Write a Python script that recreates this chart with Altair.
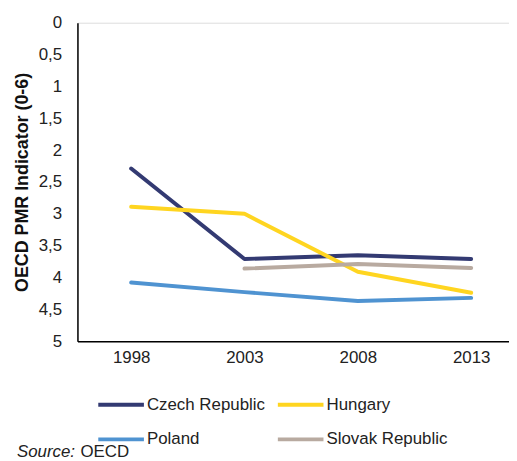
import altair as alt
import pandas as pd

years = [1998, 2003, 2008, 2013]
czech = [2.29, 3.71, 3.65, 3.71]
hungary = [2.89, 3.00, 3.91, 4.24]
poland = [4.08, 4.23, 4.37, 4.32]
slovak = [None, 3.86, 3.79, 3.85]

series = ["Czech Republic", "Hungary", "Poland", "Slovak Republic"]
colors = ["#333A72", "#FFD520", "#4F93D1", "#B8AAA0"]

rows = []
for name, vals in zip(series, [czech, hungary, poland, slovak]):
    for y, v in zip(years, vals):
        if v is not None:
            rows.append({"year": y, "value": v, "country": name})
df = pd.DataFrame(rows)

FONT = "Liberation Sans"
FS = 17

lines = alt.Chart(df).mark_line(strokeWidth=4, strokeCap="round", strokeJoin="round").encode(
    x=alt.X("year:Q",
            scale=alt.Scale(domain=[1995.63, 2014.67], nice=False, zero=False),
            axis=alt.Axis(values=years, format="d", title=None, ticks=False, grid=False,
                          domainColor="black", domainWidth=1.5, labelFontSize=FS,
                          labelColor="#222222", labelPadding=9, labelFont=FONT)),
    y=alt.Y("value:Q",
            scale=alt.Scale(domain=[0, 5], reverse=True, nice=False),
            axis=alt.Axis(values=[0, 0.5, 1, 1.5, 2, 2.5, 3, 3.5, 4, 4.5, 5],
                          labelExpr="replace(toString(datum.value), '.', ',')",
                          title="OECD PMR  Indicator (0-6)", titleFontSize=18,
                          titleFont=FONT, titleFontWeight="bold", titleColor="#111111",
                          titlePadding=7,
                          ticks=False, grid=False, domainColor="black", domainWidth=1.5,
                          labelFontSize=FS, labelColor="#222222", labelPadding=16,
                          labelFont=FONT)),
    color=alt.Color("country:N", scale=alt.Scale(domain=series, range=colors),
                    legend=alt.Legend(title=None, orient="none", legendX=19, legendY=360,
                                      direction="horizontal",
                                      columns=2, symbolType="stroke", symbolSize=2116,
                                      symbolStrokeWidth=4, labelFontSize=FS,
                                      labelFont=FONT, labelColor="#222222",
                                      labelOffset=1, columnPadding=4, rowPadding=2,
                                      padding=0)),
)

src1 = alt.Chart(pd.DataFrame({"t": ["Source:"]})).mark_text(
    align="left", baseline="middle", fontSize=FS, fontStyle="italic", font=FONT, color="#222222"
).encode(x=alt.value(-61), y=alt.value(433), text="t:N")
src2 = alt.Chart(pd.DataFrame({"t": ["OECD"]})).mark_text(
    align="left", baseline="middle", fontSize=FS, font=FONT, color="#222222"
).encode(x=alt.value(3), y=alt.value(433), text="t:N")

chart = alt.layer(lines, src1, src2).properties(
    width=435, height=321
).configure_view(stroke=None).configure(padding={"left": 5, "top": 4, "right": 0, "bottom": 5})

chart.save("out.html", embed_options={"renderer": "svg", "actions": False})
